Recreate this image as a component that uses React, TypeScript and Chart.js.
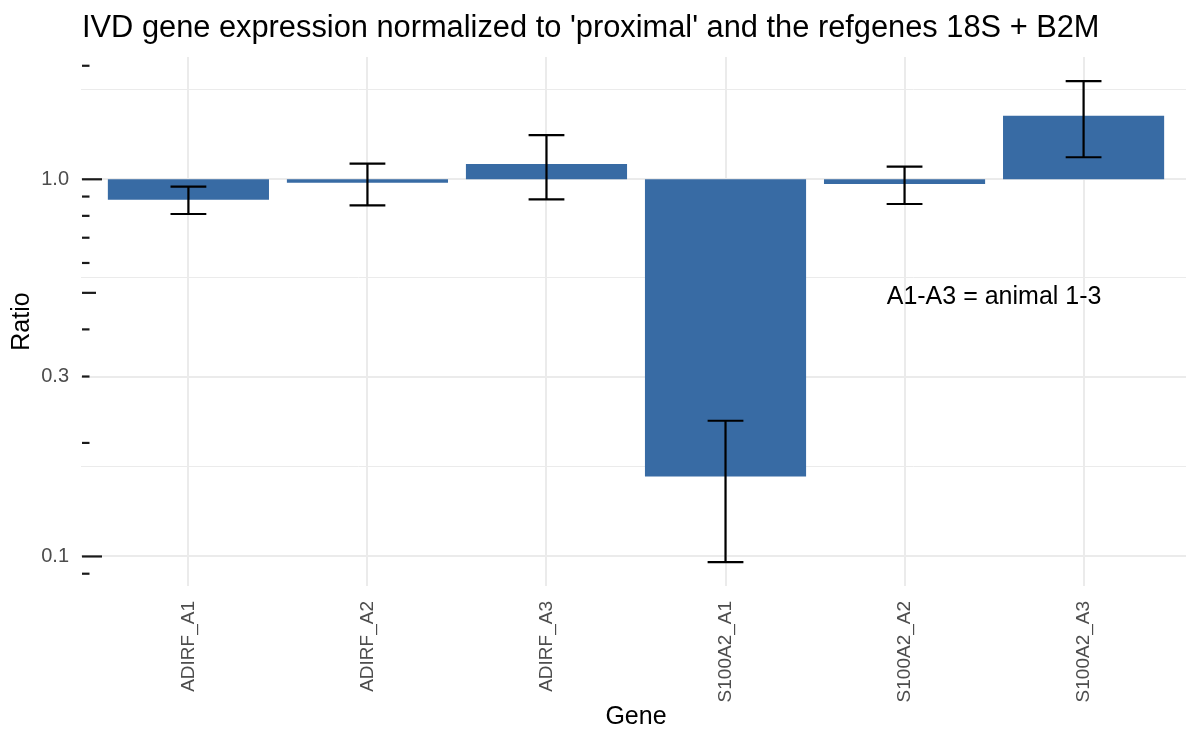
import React, { useEffect, useRef } from 'react';
import { Chart, registerables } from 'chart.js';

Chart.register(...registerables);

const categories = ['ADIRF_A1', 'ADIRF_A2', 'ADIRF_A3', 'S100A2_A1', 'S100A2_A2', 'S100A2_A3'];
const ratio = [0.882, 0.979, 1.098, 0.163, 0.972, 1.474];
const errLow = [0.809, 0.853, 0.885, 0.0966, 0.86, 1.144];
const errHigh = [0.956, 1.1, 1.31, 0.229, 1.08, 1.822];
const baseline = 1.0;

const yMajorTicks = [0.1, 0.3, 1.0];
const yMajorLabels = ['0.1', '0.3', '1.0'];
const yMinorTicks = [0.1732, 0.5477, 1.7321];
const logTickValues = [0.09, 0.1, 0.2, 0.3, 0.4, 0.5, 0.6, 0.7, 0.8, 0.9, 1, 2];
const logTickLong = [0.1, 1];
const logTickMid = [0.5];
const yMin = 0.0835;
const yMax = 2.11;
const xMin = -0.6;
const xMax = 5.6;

const titleText = "IVD gene expression normalized to 'proximal' and the refgenes 18S + B2M";
const noteText = 'A1-A3 = animal 1-3';
const noteX = 4.5;
const noteY = 0.5;
const errorBarHalfWidth = 0.1;

const FONT = '"Liberation Sans", Arial, Helvetica, sans-serif';
const BAR_COLOR = '#386ba4';
const GRID = '#EBEBEB';

const near = (a: number, b: number) => Math.abs(a - b) / b < 1e-3;

const overlayPlugin = {
  id: 'overlay',
  afterDatasetsDraw(chart: any) {
    const { ctx, chartArea } = chart;
    const xs = chart.scales.x;
    const ys = chart.scales.y;
    ctx.save();
    // error bars
    ctx.strokeStyle = '#000';
    ctx.lineWidth = 2.2;
    ctx.lineCap = 'butt';
    const capHalf = xs.getPixelForValue(errorBarHalfWidth) - xs.getPixelForValue(0);
    categories.forEach((_, i) => {
      const px = xs.getPixelForValue(i);
      const yl = ys.getPixelForValue(errLow[i]);
      const yh = ys.getPixelForValue(errHigh[i]);
      ctx.beginPath();
      ctx.moveTo(px, yl);
      ctx.lineTo(px, yh);
      ctx.moveTo(px - capHalf, yl);
      ctx.lineTo(px + capHalf, yl);
      ctx.moveTo(px - capHalf, yh);
      ctx.lineTo(px + capHalf, yh);
      ctx.stroke();
    });
    // log ticks on the left side
    ctx.strokeStyle = '#1a1a1a';
    ctx.lineWidth = 2.2;
    const x0 = chartArea.left + 1;
    logTickValues.forEach((v) => {
      const py = ys.getPixelForValue(v);
      let len = 7.5;
      if (logTickLong.some((t) => near(t, v))) len = 20;
      else if (logTickMid.some((t) => near(t, v))) len = 14;
      ctx.beginPath();
      ctx.moveTo(x0, py);
      ctx.lineTo(x0 + len, py);
      ctx.stroke();
    });
    ctx.restore();
  },
  afterDraw(chart: any) {
    const { ctx } = chart;
    const xs = chart.scales.x;
    const ys = chart.scales.y;
    ctx.save();
    ctx.fillStyle = '#000';
    ctx.font = `30.8px ${FONT}`;
    ctx.textAlign = 'left';
    ctx.textBaseline = 'alphabetic';
    ctx.fillText(titleText, 82, 37);
    ctx.font = `25px ${FONT}`;
    ctx.textAlign = 'center';
    ctx.fillText(noteText, xs.getPixelForValue(noteX), ys.getPixelForValue(noteY) + 11);
    ctx.restore();
  },
};

export default function App() {
  const canvasRef = useRef<HTMLCanvasElement | null>(null);

  useEffect(() => {
    document.body.style.margin = '0';
    const canvas = canvasRef.current;
    if (!canvas) return;
    Chart.defaults.font.family = FONT;
    const chart = new Chart(canvas, {
      type: 'bar',
      data: {
        datasets: [
          {
            label: 'Ratio',
            data: ratio.map((v, i) => ({ x: i, y: [baseline, v] })) as any,
            backgroundColor: BAR_COLOR,
            borderWidth: 0,
            barPercentage: 0.9,
            categoryPercentage: 1.0,
          },
        ],
      },
      options: {
        responsive: false,
        animation: false,
        devicePixelRatio: 1,
        layout: { padding: { top: 57, left: 0, right: 5, bottom: 0 } },
        plugins: {
          legend: { display: false },
          tooltip: { enabled: false },
          title: { display: false },
        },
        scales: {
          x: {
            type: 'linear',
            min: xMin,
            max: xMax,
            offset: false,
            afterBuildTicks: (scale: any) => {
              scale.ticks = categories.map((_, i) => ({ value: i }));
            },
            afterFit: (scale: any) => {
              scale.height = 147;
            },
            grid: { color: GRID, lineWidth: 2, drawTicks: false, offset: false },
            border: { display: false },
            ticks: {
              autoSkip: false,
              minRotation: 90,
              maxRotation: 90,
              padding: 15,
              color: '#4D4D4D',
              font: { size: 19, lineHeight: 0.53 },
              callback: (v: any) => categories[Math.round(Number(v))] ?? '',
            },
            title: {
              display: true,
              text: 'Gene',
              color: '#000',
              font: { size: 25 },
              padding: { top: 0, bottom: 1 },
            },
          },
          y: {
            type: 'logarithmic',
            min: yMin,
            max: yMax,
            afterBuildTicks: (scale: any) => {
              scale.ticks = [...yMajorTicks, ...yMinorTicks]
                .sort((a, b) => a - b)
                .map((v) => ({ value: v }));
            },
            afterFit: (scale: any) => {
              scale.width = 81;
            },
            grid: {
              color: GRID,
              drawTicks: false,
              lineWidth: (c: any) =>
                yMajorTicks.some((t) => near(t, c.tick?.value ?? 0)) ? 2 : 1,
            },
            border: { display: false },
            ticks: {
              padding: 12,
              color: '#4D4D4D',
              font: { size: 20 },
              autoSkip: false,
              callback: (v: any) => {
                const idx = yMajorTicks.findIndex((t) => near(t, Number(v)));
                return idx >= 0 ? yMajorLabels[idx] : '';
              },
            },
            title: {
              display: true,
              text: 'Ratio',
              color: '#000',
              font: { size: 25 },
              padding: { top: 7, bottom: 0 },
            },
          },
        },
      },
      plugins: [overlayPlugin],
    });
    return () => chart.destroy();
  }, []);

  return (
    <div style={{ position: 'relative', width: 1186, height: 733, overflow: 'hidden', background: '#fff' }}>
      <canvas ref={canvasRef} width={1196} height={733} style={{ display: 'block', width: 1196, height: 733 }} />
    </div>
  );
}
